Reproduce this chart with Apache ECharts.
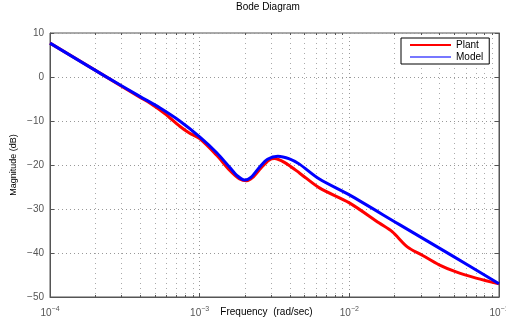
<!DOCTYPE html>
<html>
<head>
<meta charset="utf-8">
<script src="https://cdn.jsdelivr.net/npm/echarts@6/dist/echarts.min.js"></script>
<style>html,body{margin:0;padding:0;background:#fff;}#c{width:506px;height:325px;}</style>
</head>
<body>
<div id="c"></div>
<script>
const freqPlant = [1e-4, 2.33e-4, 3.98e-4, 4.64e-4, 5.84e-4, 7.36e-4, 8.58e-4, 1e-3, 1.30e-3, 1.585e-3, 1.85e-3, 2.06e-3, 2.25e-3, 2.58e-3, 2.9e-3, 3.16e-3, 3.68e-3, 4.64e-3, 6.31e-3, 1e-2, 1.585e-2, 1.94e-2, 2.44e-2, 3.07e-2, 3.98e-2, 5.17e-2, 7.03e-2, 1e-1];
const magPlant = [7.7, 0.2, -4.6, -5.9, -8.3, -11.2, -12.8, -14.0, -17.8, -21.2, -23.2, -23.6, -22.9, -20.6, -18.9, -18.5, -19.4, -21.8, -25.2, -28.6, -33.2, -35.2, -38.6, -40.5, -42.7, -44.3, -45.7, -47.0];
const freqModel = [1e-4, 2.33e-4, 3.98e-4, 5.41e-4, 7.36e-4, 1e-3, 1.30e-3, 1.585e-3, 1.79e-3, 2.0e-3, 2.2e-3, 2.51e-3, 2.84e-3, 3.33e-3, 3.98e-3, 4.64e-3, 6.31e-3, 1e-2, 2.15e-2, 4.64e-2, 1e-1];
const magModel = [7.7, 0.2, -4.4, -7.0, -10.0, -13.6, -17.2, -20.5, -22.5, -23.4, -22.8, -20.5, -18.7, -18.0, -18.6, -19.8, -23.2, -26.8, -33.5, -40.2, -47.0];
const minorFreqs = [];
[1e-4, 1e-3, 1e-2].forEach(function (d) { for (let k = 2; k <= 9; k++) minorFreqs.push(d * k); });
const seriesNames = ['Plant', 'Model'];
const titleText = 'Bode Diagram';
const xName = 'Frequency  (rad/sec)';
const yName = 'Magnitude (dB)';

const font = 'Liberation Sans, Arial, Helvetica, sans-serif';
const chart = echarts.init(document.getElementById('c'), null, {renderer: 'canvas'});
const sup = {'-4': '\u22124', '-3': '\u22123', '-2': '\u22122', '-1': '\u22121'};
chart.setOption({
  animation: false,
  title: {text: titleText, left: 231, top: -3, textStyle: {fontSize: 10, fontWeight: 'normal', color: '#000', fontFamily: font}},
  grid: {left: 50, right: 7, top: 33, bottom: 28, show: true, borderColor: '#555', borderWidth: 1, outerBoundsMode: 'none', containLabel: false},
  legend: {
    orient: 'vertical', left: 401, top: 38, itemWidth: 41, itemHeight: 2, itemGap: 0,
    padding: [1, 6, 1, 9], borderColor: '#000', borderWidth: 1, backgroundColor: '#fff',
    textStyle: {fontSize: 10, color: '#000', fontFamily: font, lineHeight: 12},
    data: [
      {name: seriesNames[0], icon: 'rect', itemStyle: {color: '#ff0000'}},
      {name: seriesNames[1], icon: 'rect', itemStyle: {color: '#7777ff'}}
    ]
  },
  xAxis: {
    type: 'log', logBase: 10, min: 1e-4, max: 1e-1,
    name: xName, nameLocation: 'middle', nameGap: 10, nameMoveOverlap: false,
    nameTextStyle: {fontSize: 10, color: '#000', fontFamily: font, padding: [0, 16, 0, 0]},
    axisLine: {onZero: false, lineStyle: {color: '#555'}},
    axisTick: {inside: true, length: 4, lineStyle: {color: '#555'}},
    splitLine: {show: true, lineStyle: {type: [1, 3], color: '#999'}},
    axisLabel: {
      margin: 9, color: '#555', fontFamily: font,
      formatter: function (v) { const e = Math.round(Math.log10(v)); return '{b|10}{s|' + (sup[String(e)] || e) + '}'; },
      rich: {b: {fontSize: 10, color: '#555', fontFamily: font}, s: {fontSize: 7, color: '#555', fontFamily: font, padding: [0, 0, 7, 0]}}
    }
  },
  yAxis: [{
    type: 'value', min: -50, max: 10, interval: 10,
    name: yName, nameLocation: 'middle', nameGap: 32, nameMoveOverlap: false,
    nameTextStyle: {fontSize: 9, color: '#000', fontFamily: font},
    axisLine: {show: true, onZero: false, lineStyle: {color: '#555'}},
    axisTick: {show: true, inside: true, length: 4, lineStyle: {color: '#555'}},
    splitLine: {show: true, lineStyle: {type: [1, 3], color: '#999'}},
    axisLabel: {fontSize: 10, color: '#555', fontFamily: font, margin: 6, formatter: function (v) { return v < 0 ? '\u2212' + (-v) : String(v); }}
  }, {
    type: 'value', min: -50, max: 10, interval: 10, position: 'right',
    axisLine: {show: true, onZero: false, lineStyle: {color: '#555'}},
    axisTick: {show: true, inside: true, length: 4, lineStyle: {color: '#555'}},
    axisLabel: {show: false}, splitLine: {show: false}
  }],
  series: [
    {
      name: 'minor', type: 'custom', silent: true, z: 1,
      data: minorFreqs.map(function (f) { return [f, -50]; }),
      encode: {x: 0, y: 1},
      renderItem: function (params, api) {
        const p = api.coord([api.value(0), api.value(1)]);
        const cs = params.coordSys;
        const top = cs.y, bot = cs.y + cs.height;
        return {type: 'group', children: [
          {type: 'line', shape: {x1: Math.round(p[0]) + 0.5, y1: top, x2: Math.round(p[0]) + 0.5, y2: bot}, style: {stroke: '#aaa', lineWidth: 1, lineDash: [1, 4]}},
          {type: 'line', shape: {x1: Math.round(p[0]) + 0.5, y1: bot, x2: Math.round(p[0]) + 0.5, y2: bot - 2}, style: {stroke: '#555', lineWidth: 1}},
          {type: 'line', shape: {x1: Math.round(p[0]) + 0.5, y1: top, x2: Math.round(p[0]) + 0.5, y2: top + 2}, style: {stroke: '#555', lineWidth: 1}}
        ]};
      }
    },
    {
      name: seriesNames[0], type: 'line', smooth: 0.3, symbol: 'none', z: 3,
      lineStyle: {color: '#ff0000', width: 3}, itemStyle: {color: '#ff0000'},
      data: freqPlant.map(function (f, i) { return [f, magPlant[i]]; })
    },
    {
      name: seriesNames[1], type: 'line', smooth: 0.3, symbol: 'none', z: 4,
      lineStyle: {color: '#0000ff', width: 3}, itemStyle: {color: '#0000ff'},
      data: freqModel.map(function (f, i) { return [f, magModel[i]]; })
    }
  ]
});
</script>
</body>
</html>
